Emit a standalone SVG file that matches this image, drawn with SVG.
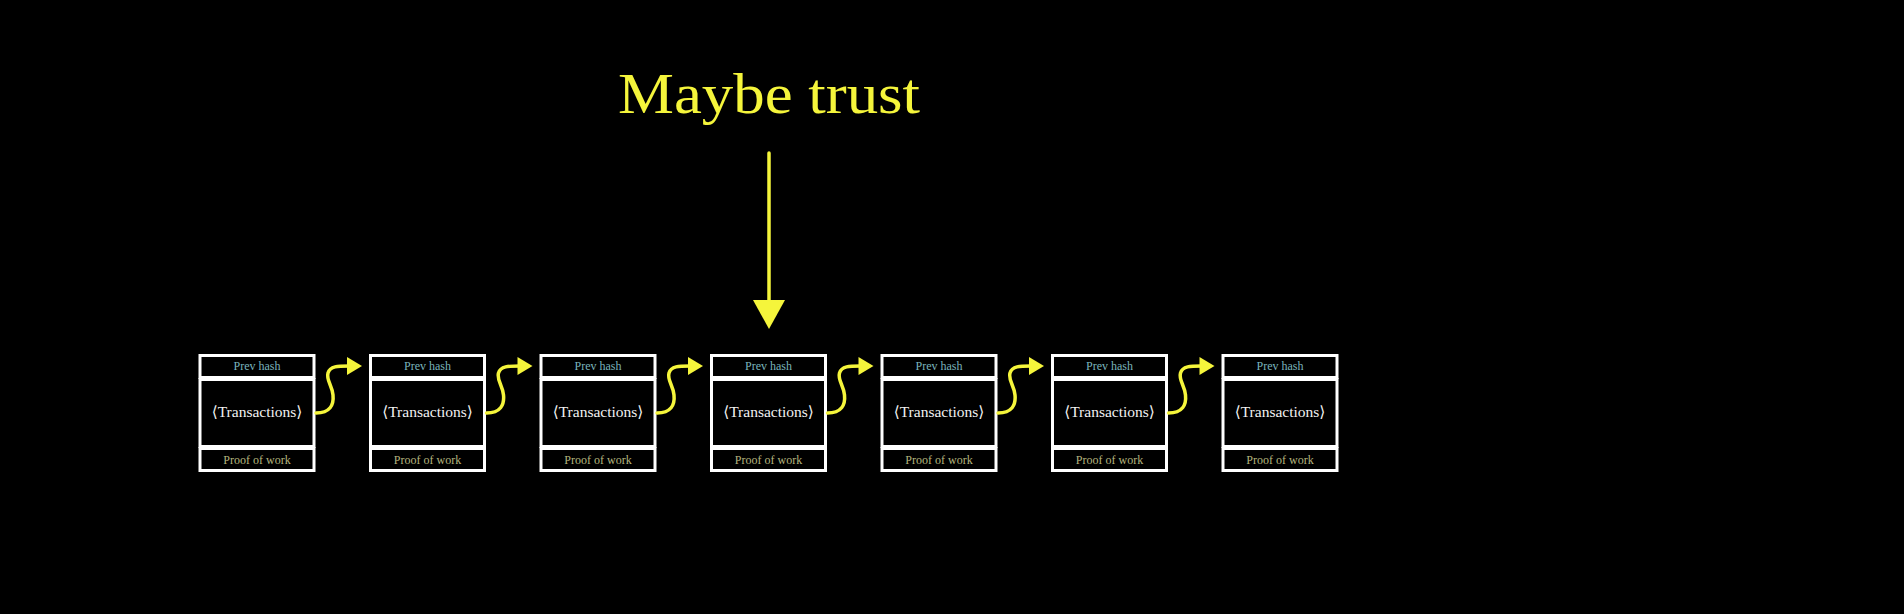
<svg xmlns="http://www.w3.org/2000/svg" width="1904" height="614" viewBox="0 0 1904 614">
  <defs>
    <style>
      .box { fill: #000; stroke: #fff; stroke-width: 3; }
      .ph { font-family: "Liberation Serif", "DejaVu Serif", serif; font-size: 12px; fill: #7ab4bc; text-anchor: middle; }
      .tx { font-family: "Liberation Serif", "DejaVu Serif", serif; font-size: 15.5px; fill: #f2f2f2; text-anchor: middle; }
      .pw { font-family: "Liberation Serif", "DejaVu Serif", serif; font-size: 12px; fill: #b4b47e; text-anchor: middle; }
      .link { fill: none; stroke: #f5f53b; stroke-width: 3.5; stroke-linecap: round; }
      .head { fill: #f5f53b; }
      .title { font-family: "Liberation Serif", "DejaVu Serif", serif; font-size: 58px; fill: #f5f53b; text-anchor: middle; }
    </style>
    <g id="block">
      <rect class="box" x="0" y="0" width="114" height="22"/>
      <rect class="box" x="0" y="24" width="114" height="67"/>
      <rect class="box" x="0" y="93" width="114" height="22"/>
      <text class="ph" x="57" y="14">Prev hash</text>
      <text class="tx" x="57" y="61">⟨Transactions⟩</text>
      <text class="pw" x="57" y="108">Proof of work</text>
    </g>
    <g id="link">
      <path class="link" d="M0,58 C14,58 18,50 17,40 C16,30 10,25 12,18 C14,11 22,11 33,11"/>
      <polygon class="head" points="31,2 46,11 31,20"/>
    </g>
  </defs>
  <rect x="0" y="0" width="1904" height="614" fill="#000"/>

  <g id="title">
    <text class="title" x="769" y="113" textLength="302" lengthAdjust="spacingAndGlyphs">Maybe trust</text>
  </g>

  <g id="block1"><use href="#block" transform="translate(200,355.5)"/></g>
  <g id="block2"><use href="#block" transform="translate(370.5,355.5)"/></g>
  <g id="block3"><use href="#block" transform="translate(541,355.5)"/></g>
  <g id="block4"><use href="#block" transform="translate(711.5,355.5)"/></g>
  <g id="block5"><use href="#block" transform="translate(882,355.5)"/></g>
  <g id="block6"><use href="#block" transform="translate(1052.5,355.5)"/></g>
  <g id="block7"><use href="#block" transform="translate(1223,355.5)"/></g>

  <g id="connectors">
    <use href="#link" transform="translate(316,355)"/>
    <use href="#link" transform="translate(486.5,355)"/>
    <use href="#link" transform="translate(657,355)"/>
    <use href="#link" transform="translate(827.5,355)"/>
    <use href="#link" transform="translate(998,355)"/>
    <use href="#link" transform="translate(1168.5,355)"/>
    <line class="link" x1="769" y1="153" x2="769" y2="302" stroke-linecap="butt"/>
    <polygon class="head" points="753,300 785,300 769,329"/>
  </g>
</svg>
